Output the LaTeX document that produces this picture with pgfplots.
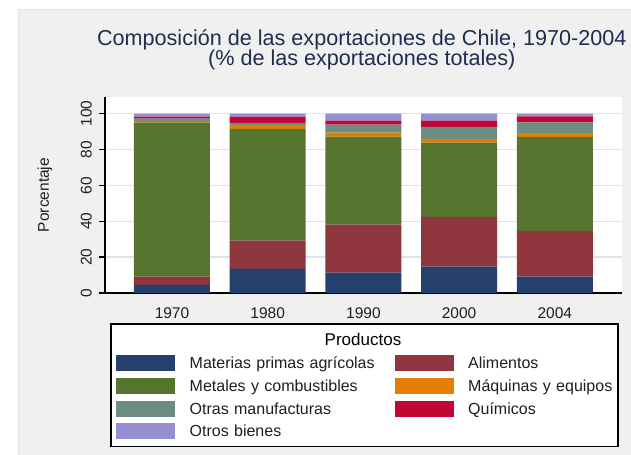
\documentclass[border=0pt]{standalone}
\usepackage{fontspec}
\setmainfont{Liberation Sans}
\usepackage{pgfplots}
\pgfplotsset{compat=1.18}
\definecolor{cblue}{RGB}{38,64,109}
\definecolor{cred}{RGB}{142,53,61}
\definecolor{cgreen}{RGB}{85,117,47}
\definecolor{corange}{RGB}{227,126,0}
\definecolor{cteal}{RGB}{108,142,130}
\definecolor{ccrim}{RGB}{193,5,52}
\definecolor{clav}{RGB}{148,142,210}
\definecolor{bggray}{RGB}{240,240,240}
\definecolor{gridc}{RGB}{222,226,238}
\definecolor{titlec}{RGB}{30,45,80}
\definecolor{borderc}{RGB}{220,226,238}
\pgfplotsset{myleg/.style={legend image code/.code={\fill[##1,draw=none] (0bp,-6.4bp) rectangle (59bp,9.6bp);}}}
\begin{document}
\begin{tikzpicture}
\fill[white] (0,0) rectangle (631bp,455bp);
\fill[bggray] (18bp,0) rectangle (631bp,445bp);
\draw[borderc, line width=1bp] (18bp,0) -- (18bp,445bp) -- (631bp,445bp);
\node[anchor=base, text=titlec, font=\fontsize{21.6bp}{22bp}\selectfont, inner sep=0pt] at (361.8bp,409bp) {Composición de las exportaciones de Chile, 1970-2004};
\node[anchor=base, text=titlec, font=\fontsize{21.6bp}{22bp}\selectfont, inner sep=0pt] at (361.8bp,389bp) {(\% de las exportaciones totales)};
\draw[black, line width=1.5bp, fill=white] (111bp,8.5bp) rectangle (618bp,131bp);
\node[anchor=base, inner sep=0pt, font=\fontsize{17bp}{19bp}\selectfont] at (363bp,109.5bp) {Productos};
\begin{axis}[
  at={(105bp,162bp)}, anchor=south west,
  width=517bp, height=196bp, scale only axis,
  xmin=0.3, xmax=5.702, ymin=0, ymax=109.3,
  ybar stacked, bar width=76bp,
  axis x line*=bottom, axis y line*=left,
  axis line style={black, line width=2bp, -},
  axis background/.style={fill=white},
  ymajorgrids, major grid style={gridc, line width=1.5bp},
  ytick={0,20,40,60,80,100},
  xtick={1,2,3,4,5},
  xticklabels={1970,1980,1990,2000,2004},
  tick align=outside, major tick length=6bp,
  ytick style={black, line width=1.3bp},
  xtick style={draw=none},
  minor tick num=0,
  /pgf/number format/assume math mode=true,
  tick label style={font=\fontsize{15.5bp}{17bp}\selectfont, text=black!88},
  yticklabel style={rotate=90, anchor=south, inner sep=0pt},
  yticklabel shift=7bp,
  xticklabel style={inner sep=0pt},
  xticklabel shift=8bp,
  ylabel={Porcentaje},
  ylabel style={at={(axis description cs:-0.1087,0.5)}, anchor=base, inner sep=0pt, font=\fontsize{15.5bp}{17bp}\selectfont, text=black!88},
  legend columns=2,
  legend cell align=left,
  legend style={draw=none, fill=none, inner sep=0pt, column sep=14.5bp, row sep=5.1bp,
    at={(axis description cs:0.02128,-0.31633)}, anchor=north west,
    nodes={inner sep=0pt, text height=12bp, text depth=4bp, text width=190.5bp, font=\fontsize{16bp}{18bp}\selectfont, text=black!88}},
]
\addplot[fill=cblue, draw=none, myleg] coordinates {(1,4.6) (2,13.5) (3,11.3) (4,14.7) (5,9.1)};
\addlegendentry{Materias primas agrícolas}
\addplot[fill=cred, draw=none, myleg] coordinates {(1,4.5) (2,15.7) (3,26.8) (4,27.8) (5,25.6)};
\addlegendentry{Alimentos}
\addplot[fill=cgreen, draw=none, myleg] coordinates {(1,85.9) (2,62.3) (3,49.1) (4,41.3) (5,52.3)};
\addlegendentry{Metales y combustibles}
\addplot[fill=corange, draw=none, myleg] coordinates {(1,0.3) (2,2.2) (3,2.2) (4,2.2) (5,2.2)};
\addlegendentry{Máquinas y equipos}
\addplot[fill=cteal, draw=none, myleg] coordinates {(1,1.9) (2,1.1) (3,4.5) (4,6.7) (5,5.9)};
\addlegendentry{Otras manufacturas}
\addplot[fill=ccrim, draw=none, myleg] coordinates {(1,1.1) (2,3.5) (3,2.2) (4,3.4) (5,3.4)};
\addlegendentry{Químicos}
\addplot[fill=clav, draw=none, myleg] coordinates {(1,1.7) (2,1.7) (3,3.9) (4,3.9) (5,1.5)};
\addlegendentry{Otros bienes}
\end{axis}
\pgfresetboundingbox
\useasboundingbox (0,0) rectangle (631bp,455bp);
\end{tikzpicture}
\end{document}
